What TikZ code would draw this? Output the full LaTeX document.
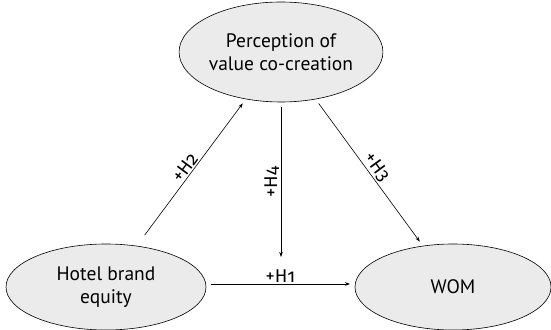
\documentclass[tikz,border=0pt]{standalone}
\usepackage{fontspec}
\setmainfont{PT Sans}
\newfontfamily\lblfont[Numbers=OldStyle]{Fira Sans}
\usetikzlibrary{shapes.geometric,arrows.meta}
\definecolor{ellfill}{HTML}{EBEBEB}
\tikzset{
  construct/.style={ellipse, draw, line width=0.6pt, fill=ellfill, inner sep=0pt,
    align=center, font=\fontsize{19.5}{23}\selectfont, outer sep=5pt},
  path/.style={line width=0.6pt, -{Stealth[length=5pt,width=3.5pt]}},
  hlabel/.style={font=\lblfont\fontsize{18.5}{20}\selectfont, inner sep=1.5pt}
}
\begin{document}
\begin{tikzpicture}[x=1pt,y=1pt]
\useasboundingbox (0,0) rectangle (551,329);
\node[construct, minimum width=200pt, minimum height=100pt] (pvc) at (281,277) {Perception of\\value co-creation};
\node[construct, minimum width=200pt, minimum height=86pt] (hbe) at (106,42) {Hotel brand\\equity};
\node[construct, minimum width=196pt, minimum height=86pt] (wom) at (453,42) {WOM};
\coordinate (h4end) at (281,72);
\draw[path, shorten <=8pt] (hbe) -- node[hlabel, midway, sloped, above] {+H2} (pvc);
\draw[path] (pvc) -- node[hlabel, midway, sloped, above] {+H3} (wom);
\draw[path] (pvc.south) -- node[hlabel, midway, rotate=90, above] {+H4} (h4end);
\draw[path] ([yshift=3pt]hbe.east) -- node[hlabel, midway, above] {+H1} ([yshift=3pt]wom.west);
\end{tikzpicture}
\end{document}
